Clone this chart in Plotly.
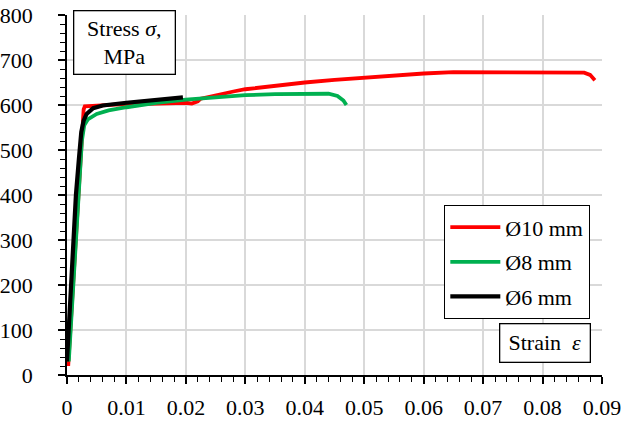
import plotly.graph_objects as go

# Ø10 mm
strain_10 = [0.0002, 0.0008, 0.0014, 0.0019, 0.0023, 0.0026, 0.0028, 0.003, 0.005, 0.008, 0.012, 0.016,
             0.018, 0.02, 0.021, 0.022, 0.0225, 0.025, 0.028, 0.03, 0.035, 0.04, 0.045, 0.05, 0.055,
             0.06, 0.065, 0.07, 0.08, 0.086, 0.087, 0.088, 0.0888]
stress_10 = [20, 150, 300, 420, 500, 560, 590, 597, 599, 601, 602, 603,
             604, 605, 603, 608, 614, 622, 630, 635, 643, 650, 656, 661, 666,
             670, 673, 673, 673, 673, 672, 667, 655]

# Ø8 mm
strain_8 = [0.0003, 0.001, 0.0015, 0.002, 0.0025, 0.0029, 0.0035, 0.005, 0.007, 0.01, 0.015, 0.02,
            0.025, 0.03, 0.035, 0.04, 0.044, 0.0455, 0.0465, 0.047]
stress_8 = [30, 180, 300, 420, 520, 555, 568, 580, 588, 595, 605, 612,
            618, 622, 624, 625, 625, 620, 610, 600]

# Ø6 mm
strain_6 = [0.0, 0.0005, 0.001, 0.0015, 0.002, 0.0024, 0.0028, 0.0033, 0.0044, 0.006, 0.01, 0.015, 0.0195]
stress_6 = [30, 160, 300, 400, 480, 540, 565, 580, 593, 599, 605, 611, 617]

names = ["Ø10 mm", "Ø8 mm", "Ø6 mm"]
colors = ["#ff0000", "#00b050", "#000000"]

FONT = "Liberation Serif"
FS = 22

fig = go.Figure()
for i, (xs, ys) in enumerate([(strain_10, stress_10), (strain_8, stress_8), (strain_6, stress_6)]):
    fig.add_trace(go.Scatter(x=xs, y=ys, mode="lines", name=names[i],
                             line=dict(color=colors[i], width=3.8 if i < 2 else 4.2),
                             legendgroup=f"g{i}"))

axis_common = dict(showgrid=True, gridcolor="#d9d9d9", gridwidth=1.5,
                   showline=True, linecolor="black", linewidth=1.5,
                   ticks="outside", ticklen=7, tickwidth=1.5, tickcolor="black",
                   zeroline=False, automargin=False,
                   tickfont=dict(family=FONT, size=FS, color="black"))

fig.update_xaxes(range=[0, 0.09], dtick=0.01, tick0=0,
                 minor=dict(dtick=0.002, ticks="outside", ticklen=5, tickcolor="black", tickwidth=1.2, showgrid=False),
                 ticklabelstandoff=5,
                 **axis_common)
fig.update_yaxes(range=[0, 800], dtick=100, tick0=0,
                 minor=dict(dtick=20, ticks="outside", ticklen=5, tickcolor="black", tickwidth=1.2, showgrid=False),
                 ticklabelstandoff=21,
                 **axis_common)

fig.add_annotation(text="Stress <i>σ</i>,<br>MPa", xref="paper", yref="paper",
                   x=0.011, y=1.015, xanchor="left", yanchor="top", showarrow=False,
                   font=dict(family=FONT, size=FS, color="black"),
                   bordercolor="black", borderwidth=1.3, bgcolor="white",
                   width=96, height=58, borderpad=2)
fig.add_annotation(text="Strain  <i>ε</i>", xref="paper", yref="paper",
                   x=0.979, y=0.033, xanchor="right", yanchor="bottom", showarrow=False,
                   font=dict(family=FONT, size=FS, color="black"),
                   bordercolor="black", borderwidth=1.3, bgcolor="white",
                   width=85, height=33, borderpad=2)

fig.update_layout(
    width=624, height=423,
    margin=dict(l=67, r=22, t=15, b=48),
    paper_bgcolor="white", plot_bgcolor="white",
    font=dict(family=FONT, size=FS, color="black"),
    legend=dict(x=0.9776, y=0.472, xanchor="right", yanchor="top",
                bordercolor="black", borderwidth=1.3, bgcolor="white",
                font=dict(family=FONT, size=FS, color="black"),
                itemwidth=50, tracegroupgap=3),
    showlegend=True,
)

fig.write_html("out.html")
